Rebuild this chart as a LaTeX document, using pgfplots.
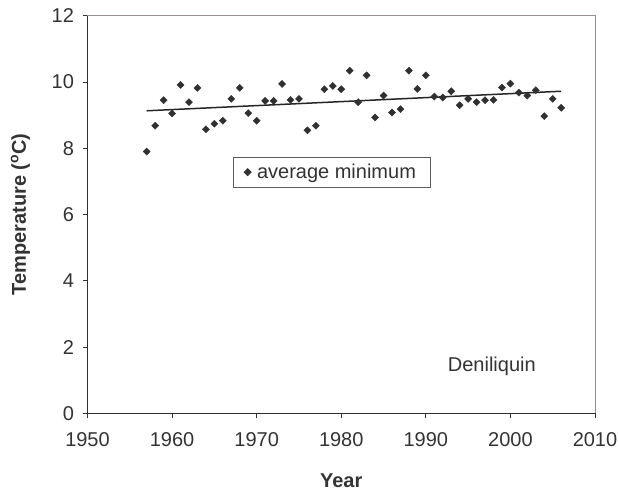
\documentclass[border=0pt]{standalone}
\usepackage{pgfplots}
\pgfplotsset{compat=1.18}
\usepackage{fontspec}
\setmainfont{Liberation Sans}
\definecolor{txt}{HTML}{333333}
\definecolor{mk}{HTML}{303030}
\definecolor{frame}{HTML}{9A8F8F}
\begin{document}
\begin{tikzpicture}
\useasboundingbox (-87.5bp,-81.7bp) rectangle (531.5bp,413.3bp);
\begin{axis}[
  scale only axis,
  width=507.5bp, height=397.6bp,
  xmin=1950, xmax=2010, ymin=0, ymax=12,
  xtick={1950,1960,...,2010}, ytick={0,2,...,12},
  axis lines=left,
  axis line style={-, draw=txt!90!black, line width=0.8bp},
  tick align=outside,
  major tick length=5bp,
  tick style={draw=txt, line width=0.8bp},
  xtick pos=bottom, ytick pos=left,
  font=\fontsize{20bp}{24bp}\selectfont,
  ticklabel style={text=txt, font=\fontsize{20bp}{24bp}\selectfont},
  xticklabel style={yshift=-11bp},
  yticklabel style={xshift=-5bp},
  /pgf/number format/assume math mode=true,
  /pgf/number format/1000 sep={},
  xlabel={\textbf{Year}},
  ylabel={\textbf{Temperature (\textsuperscript{o}C)}},
  every axis x label/.style={at={(rel axis cs:0.5,0)}, anchor=center, yshift=-67bp, text=txt},
  every axis y label/.style={at={(rel axis cs:0,0.5)}, xshift=-67bp, rotate=90, anchor=center, text=txt},
  legend style={at={(axis cs:1967.2,7.74)}, anchor=north west, draw=txt!80, line width=0.7bp,
    font=\fontsize{20bp}{24bp}\selectfont, text=txt, inner xsep=2bp, inner ysep=5bp},
  legend image code/.code={\path (-12bp,0bp) (7bp,0bp); \draw[#1] plot coordinates {(0bp,0bp)};},
  legend cell align=left,
  clip=false,
]
\addplot[only marks, mark=square*, mark size=2.5bp, mark options={rotate=45}, color=mk] coordinates {
(1957,7.90) (1958,8.68) (1959,9.45) (1960,9.05) (1961,9.91) (1962,9.39)
(1963,9.82) (1964,8.57) (1965,8.74) (1966,8.83) (1967,9.49) (1968,9.82)
(1969,9.06) (1970,8.83) (1971,9.43) (1972,9.43) (1973,9.94) (1974,9.46)
(1975,9.49) (1976,8.54) (1977,8.68) (1978,9.78) (1979,9.88) (1980,9.78)
(1981,10.34) (1982,9.39) (1983,10.20) (1984,8.93) (1985,9.59) (1986,9.08)
(1987,9.18) (1988,10.34) (1989,9.79) (1990,10.20) (1991,9.56) (1992,9.53)
(1993,9.72) (1994,9.30) (1995,9.49) (1996,9.39) (1997,9.45) (1998,9.46)
(1999,9.83) (2000,9.95) (2001,9.68) (2002,9.59) (2003,9.75) (2004,8.97)
(2005,9.49) (2006,9.22)
};
\addlegendentry{average minimum\rule{10bp}{0pt}}
\addplot[forget plot, no marks, color=black!85, line width=1.5bp] coordinates {(1957,9.13) (2006,9.72)};
\draw[frame, line width=0.8bp] (rel axis cs:0,1) -- (rel axis cs:1,1) -- (rel axis cs:1,0);
\node[text=txt, font=\fontsize{20bp}{24bp}\selectfont] at (axis cs:1997.8,1.43) {Deniliquin};
\end{axis}
\end{tikzpicture}
\end{document}
